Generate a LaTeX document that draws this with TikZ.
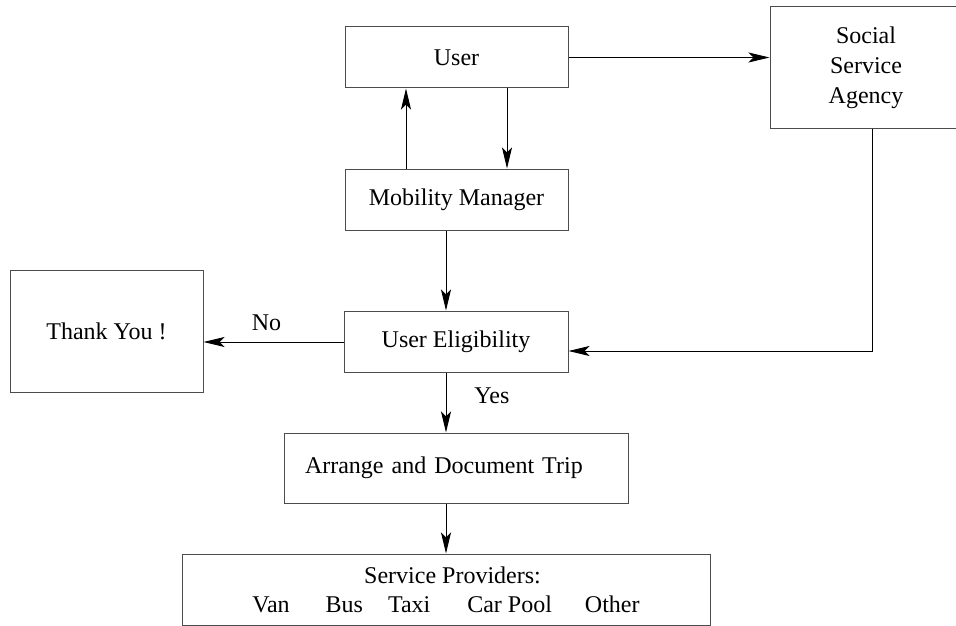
\documentclass[tikz,border=0pt]{standalone}
\usepackage{fontspec}
\setmainfont{Liberation Serif}
\usetikzlibrary{arrows.meta,calc}
\begin{document}
\begin{tikzpicture}[x=1pt,y=-1pt,
  box/.style={draw=black!70, line width=1pt, rectangle, inner sep=0pt, align=center,
    font=\fontsize{24}{30}\selectfont},
  arr/.style={draw=black, line width=0.9pt, -{Stealth[length=21pt,width=10pt,inset=5pt]}},
  lbl/.style={font=\fontsize{24}{30}\selectfont, inner sep=0pt}]
\useasboundingbox (0,0) rectangle (956,626);
\node[box, minimum width=223pt, minimum height=61pt] (user) at (456.5,57.5) {User};
\node[box, minimum width=192pt, minimum height=121pt] (ssa) at (866,67.5) {Social\\Service\\Agency};
\node[box, minimum width=223pt, minimum height=61pt] (mm) at (456.5,199.5) {Mobility Manager};
\node[box, minimum width=193pt, minimum height=122pt] (thank) at (106.5,331) {Thank You !};
\node[box, minimum width=224pt, minimum height=61pt] (ue) at (456,341.5) {User Eligibility};
\node[box, text width=302pt, inner xsep=21pt, align=left, minimum height=70pt] (arr) at (456,468) {Arrange and Document Trip};
\node[box, minimum width=528pt, minimum height=71pt] (sp) at (446,589.5)
  {\hspace*{13pt}Service Providers:\\[-1pt]Van\hspace{36pt}Bus\hspace{25pt}Taxi\hspace{37pt}Car Pool\hspace{33pt}Other};
% connectors
\coordinate (mmA) at (406,0);
\coordinate (mmB) at (507,0);
\coordinate (mid) at (446,0);
\coordinate (ssaX) at (872,0);
\coordinate (ueY) at (0,351);
\coordinate (noY) at (0,342);
\draw[arr] (mm.north -| mmA) -- (user.south -| mmA);
\draw[arr] (user.south -| mmB) -- (mm.north -| mmB);
\draw[arr] (user.east) -- (ssa.west |- user.east);
\draw[arr] (mm.south -| mid) -- (ue.north -| mid);
\draw[arr] (ue.west |- noY) -- node[lbl, above=11pt, pos=0.55] {No} (thank.east |- noY);
\draw[arr] (ssa.south -| ssaX) -- (ssaX |- ueY) -- (ue.east |- ueY);
\draw[arr] (ue.south -| mid) -- node[lbl, right=28pt, pos=0.38] {Yes} (arr.north -| mid);
\draw[arr] (arr.south -| mid) -- (sp.north -| mid);
\end{tikzpicture}
\end{document}
